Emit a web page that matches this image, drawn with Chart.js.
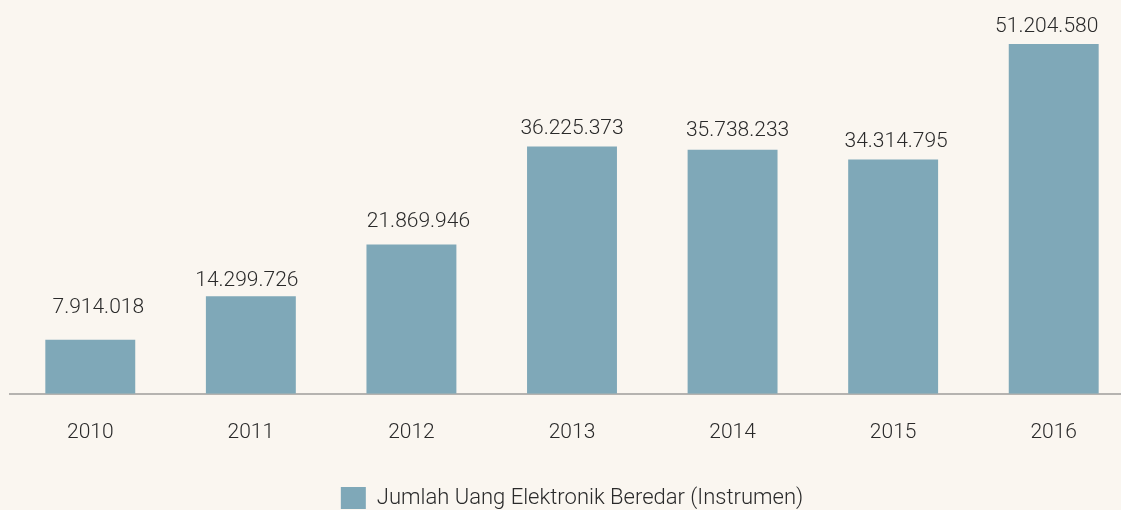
<!DOCTYPE html>
<html>
<head>
<meta charset="utf-8">
<script src="https://cdn.jsdelivr.net/npm/chart.js@4"></script>
<style>
  html, body { margin: 0; padding: 0; background: #faf6f0; overflow: hidden; }
  #wrap { width: 1142px; height: 519px; }
</style>
</head>
<body>
<div id="wrap"><canvas id="chart"></canvas></div>
<script>
  const years = ['2010', '2011', '2012', '2013', '2014', '2015', '2016'];
  const amounts = [7914018, 14299726, 21869946, 36225373, 35738233, 34314795, 51204580];
  const seriesName = 'Jumlah Uang Elektronik Beredar (Instrumen)';

  // the source placed its value labels by hand: [dx, gap above bar] per bar
  const labelNudge = [[8, 27], [-4, 10], [7, 17], [0, 12], [5, 14], [3, 12], [-7, 12]];

  const barColor = '#7fa8b8';
  const textColor = '#2a2a2a';

  // thousand separators with dots, as in the source
  function formatAmount(value) {
    return String(value).replace(/\B(?=(\d{3})+(?!\d))/g, '.');
  }

  // draws the value above each bar
  const valueLabels = {
    id: 'valueLabels',
    afterDatasetsDraw(chart) {
      const ctx = chart.ctx;
      const meta = chart.getDatasetMeta(0);
      ctx.save();
      ctx.font = '300 21px Roboto';
      ctx.fillStyle = textColor;
      ctx.textAlign = 'center';
      ctx.textBaseline = 'alphabetic';
      meta.data.forEach((bar, i) => {
        const [dx, gap] = labelNudge[i];
        ctx.fillText(formatAmount(amounts[i]), bar.x + dx, bar.y - gap);
      });
      ctx.restore();
    }
  };

  new Chart(document.getElementById('chart'), {
    type: 'bar',
    data: {
      labels: years,
      datasets: [{
        label: seriesName,
        data: amounts,
        backgroundColor: barColor,
        borderWidth: 0,
        categoryPercentage: 0.56,
        barPercentage: 1
      }]
    },
    options: {
      responsive: true,
      maintainAspectRatio: false,
      animation: false,
      layout: { padding: { top: 10, left: 10, right: 8, bottom: 0 } },
      plugins: {
        legend: {
          position: 'bottom',
          labels: {
            color: textColor,
            font: { family: 'Roboto', size: 22, weight: '300' },
            boxWidth: 25,
            boxHeight: 22,
            padding: 16
          }
        },
        tooltip: { enabled: false }
      },
      scales: {
        x: {
          grid: { display: false, drawTicks: false },
          border: { color: '#b5b3b0', width: 2 },
          ticks: {
            color: textColor,
            font: { family: 'Roboto', size: 21, weight: '300' },
            padding: 26
          }
        },
        y: {
          min: 0,
          max: 56200000,
          display: false
        }
      }
    },
    plugins: [valueLabels]
  });
</script>
</body>
</html>
